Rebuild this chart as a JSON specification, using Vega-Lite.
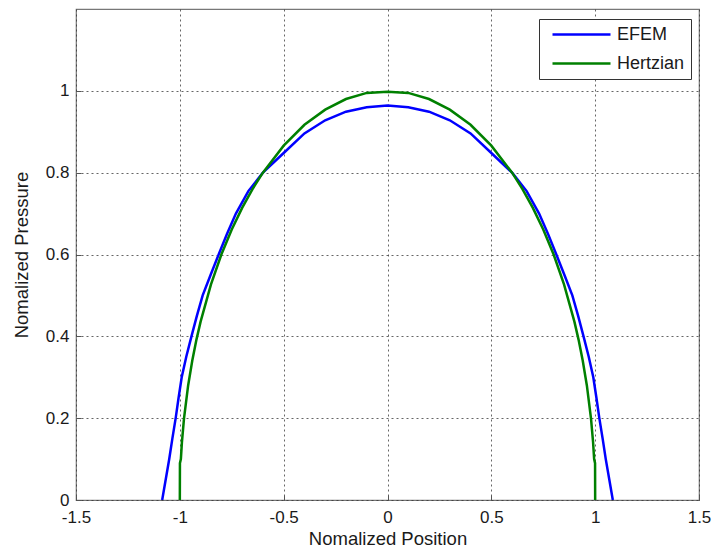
{
  "$schema": "https://vega.github.io/schema/vega-lite/v6.json",
  "autosize": "none",
  "padding": {"left": 76, "top": 9, "right": 15, "bottom": 52},
  "width": 623,
  "height": 491,
  "background": "white",
  "config": {
    "font": "Liberation Sans",
    "view": {"stroke": "#777", "strokeWidth": 1.2},
    "axis": {
      "domain": false,
      "grid": true,
      "gridDash": [2, 3],
      "gridColor": "#333",
      "gridOpacity": 0.75,
      "gridWidth": 1,
      "ticks": true,
      "tickSize": -5,
      "tickColor": "#555",
      "labelFont": "Liberation Sans",
      "labelFontSize": 17,
      "labelColor": "#1a1a1a",
      "titleFont": "Liberation Sans",
      "titleFontSize": 18.5,
      "titleFontWeight": "normal",
      "titleColor": "#1a1a1a"
    },
    "legend": {
      "labelFont": "Liberation Sans",
      "labelFontSize": 18,
      "labelColor": "#1a1a1a"
    }
  },
  "data": {
    "values": [
      {"series": "EFEM", "x": -1.085, "p": 0},
      {"series": "EFEM", "x": -1.068, "p": 0.05},
      {"series": "EFEM", "x": -1.051, "p": 0.1},
      {"series": "EFEM", "x": -1.036, "p": 0.15},
      {"series": "EFEM", "x": -1.02, "p": 0.2},
      {"series": "EFEM", "x": -1.006, "p": 0.25},
      {"series": "EFEM", "x": -0.991, "p": 0.3},
      {"series": "EFEM", "x": -0.969, "p": 0.35},
      {"series": "EFEM", "x": -0.944, "p": 0.4},
      {"series": "EFEM", "x": -0.918, "p": 0.45},
      {"series": "EFEM", "x": -0.89, "p": 0.5},
      {"series": "EFEM", "x": -0.852, "p": 0.55},
      {"series": "EFEM", "x": -0.813, "p": 0.6},
      {"series": "EFEM", "x": -0.773, "p": 0.65},
      {"series": "EFEM", "x": -0.73, "p": 0.7},
      {"series": "EFEM", "x": -0.67, "p": 0.755},
      {"series": "EFEM", "x": -0.6, "p": 0.8},
      {"series": "EFEM", "x": -0.5, "p": 0.848},
      {"series": "EFEM", "x": -0.4, "p": 0.896},
      {"series": "EFEM", "x": -0.3, "p": 0.928},
      {"series": "EFEM", "x": -0.2, "p": 0.949},
      {"series": "EFEM", "x": -0.1, "p": 0.96},
      {"series": "EFEM", "x": 0, "p": 0.964},
      {"series": "EFEM", "x": 0.1, "p": 0.96},
      {"series": "EFEM", "x": 0.2, "p": 0.949},
      {"series": "EFEM", "x": 0.3, "p": 0.928},
      {"series": "EFEM", "x": 0.4, "p": 0.896},
      {"series": "EFEM", "x": 0.5, "p": 0.848},
      {"series": "EFEM", "x": 0.6, "p": 0.8},
      {"series": "EFEM", "x": 0.67, "p": 0.755},
      {"series": "EFEM", "x": 0.73, "p": 0.7},
      {"series": "EFEM", "x": 0.773, "p": 0.65},
      {"series": "EFEM", "x": 0.813, "p": 0.6},
      {"series": "EFEM", "x": 0.852, "p": 0.55},
      {"series": "EFEM", "x": 0.89, "p": 0.5},
      {"series": "EFEM", "x": 0.918, "p": 0.45},
      {"series": "EFEM", "x": 0.944, "p": 0.4},
      {"series": "EFEM", "x": 0.969, "p": 0.35},
      {"series": "EFEM", "x": 0.991, "p": 0.3},
      {"series": "EFEM", "x": 1.006, "p": 0.25},
      {"series": "EFEM", "x": 1.02, "p": 0.2},
      {"series": "EFEM", "x": 1.036, "p": 0.15},
      {"series": "EFEM", "x": 1.051, "p": 0.1},
      {"series": "EFEM", "x": 1.068, "p": 0.05},
      {"series": "EFEM", "x": 1.085, "p": 0},
      {"series": "Hertzian", "x": -1.0, "p": 0},
      {"series": "Hertzian", "x": -0.9995, "p": 0.09},
      {"series": "Hertzian", "x": -0.995, "p": 0.0999},
      {"series": "Hertzian", "x": -0.99, "p": 0.141},
      {"series": "Hertzian", "x": -0.98, "p": 0.199},
      {"series": "Hertzian", "x": -0.96, "p": 0.28},
      {"series": "Hertzian", "x": -0.94, "p": 0.341},
      {"series": "Hertzian", "x": -0.92, "p": 0.392},
      {"series": "Hertzian", "x": -0.9, "p": 0.436},
      {"series": "Hertzian", "x": -0.85, "p": 0.527},
      {"series": "Hertzian", "x": -0.8, "p": 0.6},
      {"series": "Hertzian", "x": -0.75, "p": 0.661},
      {"series": "Hertzian", "x": -0.7, "p": 0.714},
      {"series": "Hertzian", "x": -0.65, "p": 0.76},
      {"series": "Hertzian", "x": -0.6, "p": 0.8},
      {"series": "Hertzian", "x": -0.5, "p": 0.866},
      {"series": "Hertzian", "x": -0.4, "p": 0.917},
      {"series": "Hertzian", "x": -0.3, "p": 0.954},
      {"series": "Hertzian", "x": -0.2, "p": 0.98},
      {"series": "Hertzian", "x": -0.1, "p": 0.995},
      {"series": "Hertzian", "x": 0, "p": 0.998},
      {"series": "Hertzian", "x": 0.1, "p": 0.995},
      {"series": "Hertzian", "x": 0.2, "p": 0.98},
      {"series": "Hertzian", "x": 0.3, "p": 0.954},
      {"series": "Hertzian", "x": 0.4, "p": 0.917},
      {"series": "Hertzian", "x": 0.5, "p": 0.866},
      {"series": "Hertzian", "x": 0.6, "p": 0.8},
      {"series": "Hertzian", "x": 0.65, "p": 0.76},
      {"series": "Hertzian", "x": 0.7, "p": 0.714},
      {"series": "Hertzian", "x": 0.75, "p": 0.661},
      {"series": "Hertzian", "x": 0.8, "p": 0.6},
      {"series": "Hertzian", "x": 0.85, "p": 0.527},
      {"series": "Hertzian", "x": 0.9, "p": 0.436},
      {"series": "Hertzian", "x": 0.92, "p": 0.392},
      {"series": "Hertzian", "x": 0.94, "p": 0.341},
      {"series": "Hertzian", "x": 0.96, "p": 0.28},
      {"series": "Hertzian", "x": 0.98, "p": 0.199},
      {"series": "Hertzian", "x": 0.99, "p": 0.141},
      {"series": "Hertzian", "x": 0.995, "p": 0.0999},
      {"series": "Hertzian", "x": 0.9995, "p": 0.09},
      {"series": "Hertzian", "x": 1.0, "p": 0}
    ]
  },
  "mark": {"type": "line", "strokeWidth": 2.5, "interpolate": "linear", "clip": true},
  "encoding": {
    "x": {
      "field": "x",
      "type": "quantitative",
      "scale": {"domain": [-1.5, 1.5], "nice": false, "zero": false},
      "axis": {
        "title": "Nomalized Position",
        "values": [-1.5, -1, -0.5, 0, 0.5, 1, 1.5],
        "labelExpr": "datum.value < 0 ? '-' + format(-datum.value, '~g') : format(datum.value, '~g')",
        "labelPadding": 14.5,
        "titlePadding": 4,
        "labelFlush": false
      }
    },
    "y": {
      "field": "p",
      "type": "quantitative",
      "scale": {"domain": [0, 1.2], "nice": false},
      "axis": {
        "title": "Nomalized Pressure",
        "values": [0, 0.2, 0.4, 0.6, 0.8, 1],
        "format": "~g",
        "labelPadding": 12,
        "titlePadding": 14,
        "labelFlush": false
      }
    },
    "color": {
      "field": "series",
      "type": "nominal",
      "scale": {"domain": ["EFEM", "Hertzian"], "range": ["#0000ff", "#008000"]},
      "legend": {
        "title": null,
        "orient": "none",
        "legendX": 463,
        "legendY": 10,
        "symbolType": "M-0.25,0L7,0",
        "symbolSize": 256,
        "symbolStrokeWidth": 2.5,
        "symbolFillColor": "transparent",
        "fillColor": "white",
        "strokeColor": "#333",
        "padding": 6,
        "rowPadding": 10,
        "labelOffset": 53,
        "cornerRadius": 0
      }
    }
  }
}
